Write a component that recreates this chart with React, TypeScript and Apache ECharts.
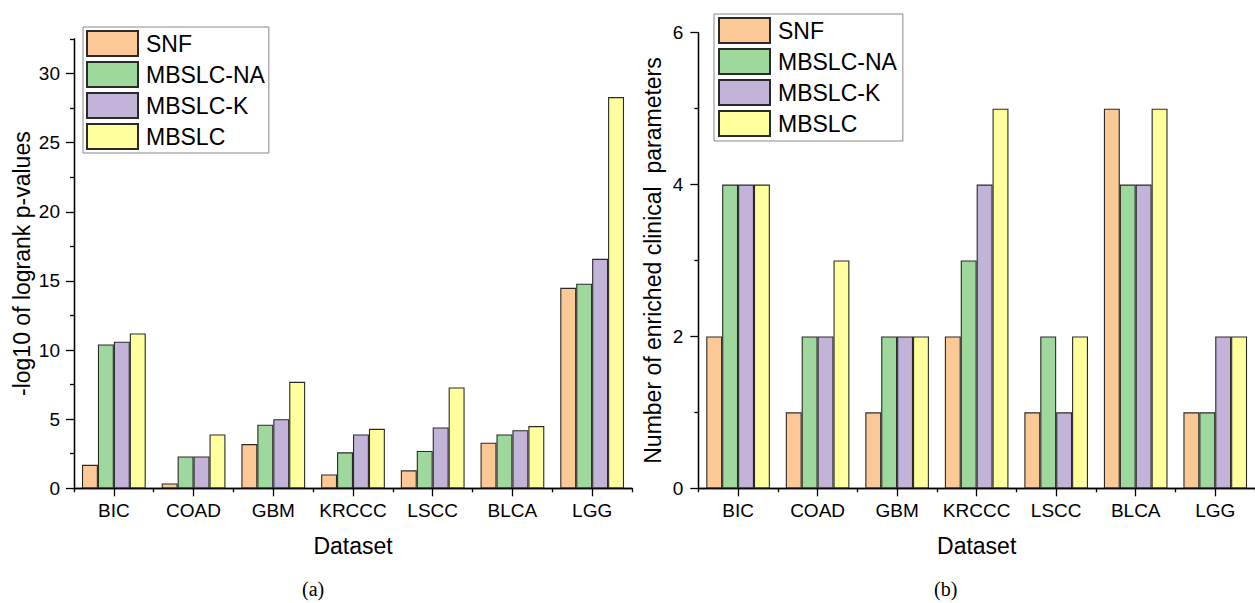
import React, { useEffect, useRef } from "react";
import * as echarts from "echarts";

const categories = ["BIC", "COAD", "GBM", "KRCCC", "LSCC", "BLCA", "LGG"];
const seriesNames = ["SNF", "MBSLC-NA", "MBSLC-K", "MBSLC"];
const colors = ["#FCC895", "#9ED89C", "#C3B3D8", "#FFFF9E"];

// (a) -log10 of logrank p-values
const pvalSNF = [1.7, 0.35, 3.2, 1.0, 1.3, 3.3, 14.5];
const pvalNA = [10.4, 2.3, 4.6, 2.6, 2.7, 3.9, 14.8];
const pvalK = [10.6, 2.3, 5.0, 3.9, 4.4, 4.2, 16.6];
const pvalMBSLC = [11.2, 3.9, 7.7, 4.3, 7.3, 4.5, 28.3];

// (b) Number of enriched clinical parameters
const enrSNF = [2, 1, 1, 2, 1, 5, 1];
const enrNA = [4, 2, 2, 3, 2, 4, 1];
const enrK = [4, 2, 2, 4, 1, 4, 2];
const enrMBSLC = [4, 3, 2, 5, 2, 5, 2];

const leftMajorTicks = [0, 5, 10, 15, 20, 25, 30];
const leftMinorTicks = [2.5, 7.5, 12.5, 17.5, 22.5, 27.5, 32.5];
const leftMax = 32.5;
const rightMajorTicks = [0, 2, 4, 6];
const rightMinorTicks = [1, 3, 5];
const rightMax = 6;

const FONT = "Liberation Sans, Arial, sans-serif";

export default function App() {
  const ref = useRef<HTMLDivElement>(null);

  useEffect(() => {
    if (!ref.current) return;
    const chart = echarts.init(ref.current, null, { renderer: "svg" });

    const axisLine = { show: true, lineStyle: { color: "#000", width: 1.3 } };
    const tickStyle = { color: "#000", width: 1.3 };

    const mainX = (gridIndex: number) => ({
      type: "category",
      gridIndex,
      data: categories,
      position: "bottom",
      axisLine,
      axisTick: { show: true, alignWithLabel: true, interval: 0, length: 8, lineStyle: tickStyle },
      axisLabel: { show: true, interval: 0, margin: 13, fontSize: 19, color: "#000", fontFamily: FONT },
      splitLine: { show: false },
      name: "Dataset",
      nameLocation: "middle",
      nameGap: 46,
      nameTextStyle: { fontSize: 23, color: "#000", fontFamily: FONT },
    });
    const boundaryX = (gridIndex: number) => ({
      type: "category",
      gridIndex,
      data: categories,
      position: "bottom",
      axisLine,
      axisTick: { show: true, alignWithLabel: false, interval: 0, length: 4, lineStyle: tickStyle },
      axisLabel: { show: false, interval: 0 },
      splitLine: { show: false },
    });
    const mainY = (gridIndex: number, max: number, ticks: number[], name: string, nameGap: number, margin: number) => ({
      type: "value",
      gridIndex,
      position: "left",
      min: 0,
      max,
      axisLine,
      axisTick: { show: true, length: 8, lineStyle: tickStyle, customValues: ticks },
      axisLabel: { show: true, margin, fontSize: 19, color: "#000", fontFamily: FONT, customValues: ticks },
      splitLine: { show: false },
      name,
      nameLocation: "middle",
      nameGap,
      nameTextStyle: { fontSize: 23, color: "#000", fontFamily: FONT },
    });
    const minorY = (gridIndex: number, max: number, ticks: number[]) => ({
      type: "value",
      gridIndex,
      position: "left",
      min: 0,
      max,
      axisLine,
      axisTick: { show: true, length: 4, lineStyle: tickStyle, customValues: ticks },
      axisLabel: { show: false, customValues: ticks },
      splitLine: { show: false },
    });

    const leftData = [pvalSNF, pvalNA, pvalK, pvalMBSLC];
    const rightData = [enrSNF, enrNA, enrK, enrMBSLC];

    const mkSeries = (data: number[][], xIdx: number, yIdx: number) =>
      data.map((d, i) => ({
        type: "bar",
        name: seriesNames[i],
        xAxisIndex: xIdx,
        yAxisIndex: yIdx,
        data: d,
        barGap: "0%",
        barCategoryGap: "20%",
        itemStyle: { color: colors[i], borderColor: "#2a2a2a", borderWidth: 1.1 },
        emphasis: { disabled: true },
      }));

    const legendBase = {
      orient: "vertical",
      itemWidth: 51,
      itemHeight: 25,
      itemGap: 4,
      borderColor: "#888",
      borderWidth: 1,
      icon: "rect",
      data: seriesNames,
      textStyle: { fontSize: 23, color: "#000", fontFamily: FONT, padding: [0, 0, 0, 3] },
    };

    chart.setOption({
      animation: false,
      backgroundColor: "#fff",
      grid: [
        { left: 74, top: 39, width: 558, height: 449.3 },
        { left: 698.3, top: 32.7, width: 565, height: 455.6 },
      ],
      legend: [
        { ...legendBase, left: 83, top: 27, padding: [3, 4, 3, 3] },
        { ...legendBase, left: 714, top: 14, padding: [3, 6, 4, 4] },
      ],
      xAxis: [mainX(0), boundaryX(0), mainX(1), boundaryX(1)],
      yAxis: [
        mainY(0, leftMax, leftMajorTicks, "-log10 of logrank p-values", 41, 14),
        minorY(0, leftMax, leftMinorTicks),
        mainY(1, rightMax, rightMajorTicks, "Number of enriched clinical  parameters", 34, 15),
        minorY(1, rightMax, rightMinorTicks),
      ],
      series: [...mkSeries(leftData, 0, 0), ...mkSeries(rightData, 2, 2)],
      graphic: [
        {
          type: "text",
          left: 302,
          top: 579,
          style: { text: "(a)", fontSize: 20, fontFamily: "Liberation Serif, Times New Roman, serif", fill: "#000" },
        },
        {
          type: "text",
          left: 934,
          top: 579,
          style: { text: "(b)", fontSize: 20, fontFamily: "Liberation Serif, Times New Roman, serif", fill: "#000" },
        },
      ],
    });

    return () => chart.dispose();
  }, []);

  return (
    <div
      ref={ref}
      style={{ position: "fixed", left: 0, top: 0, width: 1255, height: 603, background: "#fff" }}
    />
  );
}
